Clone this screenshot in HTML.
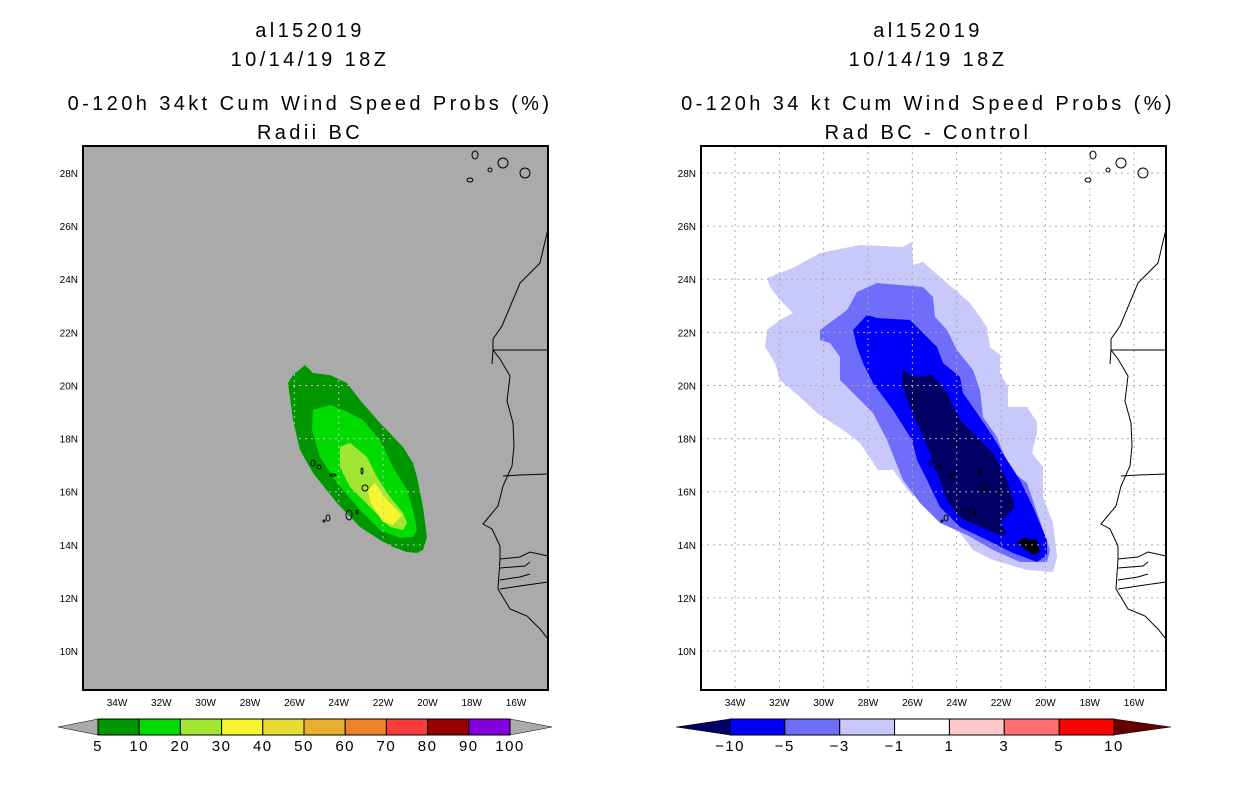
<!DOCTYPE html>
<html><head><meta charset="utf-8"><style>
body{margin:0;background:#fff;}
svg{display:block;font-family:"Liberation Sans",sans-serif;}
</style></head><body>
<svg id="s" width="1236" height="800" viewBox="0 0 1236 800">
<g font-size="20" text-anchor="middle" fill="#000" letter-spacing="3.4">
<text x="310" y="37">al152019</text>
<text x="310" y="66">10/14/19 18Z</text>
<text x="310" y="110">0-120h 34kt Cum Wind Speed Probs (%)</text>
<text x="310" y="139">Radii BC</text>
<text x="928" y="37">al152019</text>
<text x="928" y="66">10/14/19 18Z</text>
<text x="928" y="110">0-120h 34 kt Cum Wind Speed Probs (%)</text>
<text x="928" y="139">Rad BC - Control</text>
</g>
<defs><clipPath id="gclip"><polygon id="gclipPoly"/></clipPath></defs>
<g id="L"></g><g id="R"></g>
</svg>
<script>
const NS="http://www.w3.org/2000/svg";
const svg=document.getElementById('s');
const lonTicks=[-34,-32,-30,-28,-26,-24,-22,-20,-18,-16];
const latTicks=[10,12,14,16,18,20,22,24,26,28];
const leftLevels=["5","10","20","30","40","50","60","70","80","90","100"];
const leftColors=["#009600","#00dc00","#a0e632","#f5f532","#e6dc32","#e6af2d","#f08228","#fa3c3c","#960000","#8200dc"];
const rightLevels=["-10","-5","-3","-1","1","3","5","10"];
const rightColors=["#0000fa","#6e6efa","#c8c8fa","#ffffff","#ffc8c8","#ff6e6e","#ff0000"];
const coast=[[548,229],[540,263],[520,283],[502,326],[493,339],[493,350],[492,364],[493,350],[500,359],[510,376],[507,401],[513,423],[514,446],[512,466],[503,486],[498,506],[483,524],[492,529],[500,546],[500,559],[498,589],[510,609],[527,616],[540,629],[548,639]];
const borders=[[[493,350],[548,350]],[[503,476],[520,475],[548,474]],[[500,559],[520,557],[530,552],[548,556]],[[500,568],[525,566],[530,562]],[[500,580],[520,577],[530,574]],[[500,589],[520,586],[548,582]]];
const islands=[[475,155,3,4],[490,170,2,2],[503,163,5,5],[525,173,5,5],[470,180,3,2],[313,463,2,3],[319,467,2,2],[333,475,3,1],[349,515,3,5],[357,512,1,2],[362,471,1,3],[365,488,3,3],[324,521,1,1],[328,518,2,3]];
const greenPolys=[
[[293,375],[305,365],[313,373],[330,375],[347,383],[360,400],[380,423],[403,447],[413,463],[417,477],[423,507],[427,537],[423,550],[417,553],[407,552],[393,547],[380,540],[360,527],[337,503],[313,473],[300,450],[293,420],[288,383]],
[[313,410],[330,405],[343,410],[363,420],[380,440],[393,467],[407,490],[413,510],[417,530],[413,537],[400,538],[380,530],[360,510],[337,483],[320,457],[312,430]],
[[340,447],[350,443],[367,457],[377,477],[390,497],[403,513],[407,523],[403,530],[390,527],[370,507],[350,487],[340,467]],
[[368,490],[375,483],[387,500],[402,515],[393,525],[383,522],[370,502]]];
const bluePolys=[
[[767,278],[793,268],[820,253],[860,245],[903,247],[912,242],[913,265],[923,262],[947,283],[970,303],[987,327],[990,347],[1000,355],[1000,373],[1008,387],[1008,407],[1027,407],[1037,422],[1037,433],[1032,453],[1043,467],[1043,497],[1053,523],[1057,557],[1053,572],[1027,570],[993,560],[973,550],[960,533],[940,513],[910,493],[893,470],[878,470],[860,443],[843,430],[817,413],[800,397],[780,380],[775,363],[765,347],[767,330],[780,320],[793,313],[780,300],[770,287]],
[[820,330],[847,310],[857,292],[877,283],[923,287],[933,297],[935,317],[947,330],[957,350],[973,370],[980,390],[983,417],[997,437],[1010,470],[1027,483],[1043,530],[1050,550],[1047,562],[1020,562],[993,550],[967,535],[940,523],[920,503],[903,480],[887,440],[873,413],[857,397],[840,380],[840,357],[830,343],[820,340]],
[[867,315],[877,318],[910,320],[937,347],[943,363],[960,377],[963,393],[977,413],[993,437],[1007,460],[1020,480],[1033,507],[1047,540],[1047,555],[1037,562],[1013,553],[987,540],[960,527],[940,507],[927,480],[917,460],[912,440],[893,410],[873,383],[863,363],[857,347],[853,330]],
[[902,370],[917,377],[933,375],[947,393],[960,420],[973,433],[993,453],[1007,480],[1015,507],[1000,523],[1007,533],[1000,535],[980,527],[960,517],[947,500],[933,460],[920,430],[910,407],[902,383]],
[[1017,543],[1023,538],[1037,540],[1040,552],[1033,555]]];
const greenFill=["#009600","#00dc00","#a0e632","#f5f532"];
const blueFill=["#c8c8fa","#6e6efa","#0000fa","#000064"];
function el(t,a,p){const e=document.createElementNS(NS,t);for(const k in a)e.setAttribute(k,a[k]);(p||svg).appendChild(e);return e;}
const xs=lon=>117+(lon+34)*22.17, ys=lat=>173+(28-lat)*26.56;
document.getElementById('gclipPoly').setAttribute('points',greenPolys[0].map(q=>q.join(',')).join(' '));
function panel(g,dx,bg,clip,gridCol,polys,fills,side){
  const r=el('rect',{x:83+dx,y:146,width:465,height:544,fill:bg},g);
  
  
  polys.forEach((p,i)=>{const e=el('polygon',{points:p.map(q=>q.join(',')).join(' '),fill:fills[i]},g);
    
    });
  const gg=el('g',clip?{'clip-path':'url(#gclip)'}:{},g);
  lonTicks.forEach(l=>{const x=xs(l)+dx;
    const gl=el('line',{x1:x,y1:146,x2:x,y2:690,stroke:gridCol,'stroke-dasharray':'2,4'},gg);
    
    
    const t=el('text',{x:x,y:706,'font-size':10,'text-anchor':'middle'},g);t.textContent=Math.abs(l)+'W';
    
    });
  latTicks.forEach(l=>{const y=ys(l);
    const gl=el('line',{x1:83+dx,y1:y,x2:548+dx,y2:y,stroke:gridCol,'stroke-dasharray':'2,4'},gg);
    
    
    const t=el('text',{x:78+dx,y:y+4,'font-size':10,'text-anchor':'end'},g);t.textContent=l+'N';
    
    });
  const c=el('polyline',{points:coast.map(q=>(q[0]+dx)+','+q[1]).join(' '),fill:'none',stroke:'#000','stroke-width':1},g);
  
  
  borders.forEach(b=>{const e=el('polyline',{points:b.map(q=>(q[0]+dx)+','+q[1]).join(' '),fill:'none',stroke:'#000'},g);
    
    });
  islands.forEach(s=>{const e=el('ellipse',{cx:s[0]+dx,cy:s[1],rx:s[2],ry:s[3],fill:'none',stroke:'#000'},g);
    
    });
  const f=el('rect',{x:83+dx,y:146,width:465,height:544,fill:'none',stroke:'#000','stroke-width':2},g);
  
  
}
panel(document.getElementById('L'),0,'#aaaaaa',true,'#c4c4c4',greenPolys,greenFill,'left');
panel(document.getElementById('R'),618,'#ffffff',false,'#aaaaaa',bluePolys,blueFill,'right');
function colorbar(x0,x1,tl,tr,colors,labels,lc,rc,side){
  const n=colors.length,w=(x1-x0)/n;
  const a=el('polygon',{points:`${tl},727 ${x0},719 ${x0},735`,fill:lc,stroke:'#000','stroke-width':0.5});
  
  
  const b=el('polygon',{points:`${tr},727 ${x1},719 ${x1},735`,fill:rc,stroke:'#000','stroke-width':0.5});
  
  
  colors.forEach((c,i)=>{const r=el('rect',{x:x0+i*w,y:719,width:w,height:16,fill:c,stroke:'#000'});
    
    });
  labels.forEach((l,i)=>{const t=el('text',{x:x0+i*w,y:751,'font-size':15,'text-anchor':'middle','letter-spacing':1.5});t.textContent=l.replace('-','\u2212');
    
    });
}
colorbar(98,510,58,552,leftColors,leftLevels,'#aaaaaa','#aaaaaa','left');
colorbar(730,1114,676,1171,rightColors,rightLevels,'#000064','#640000','right');
</script>
</body></html>
